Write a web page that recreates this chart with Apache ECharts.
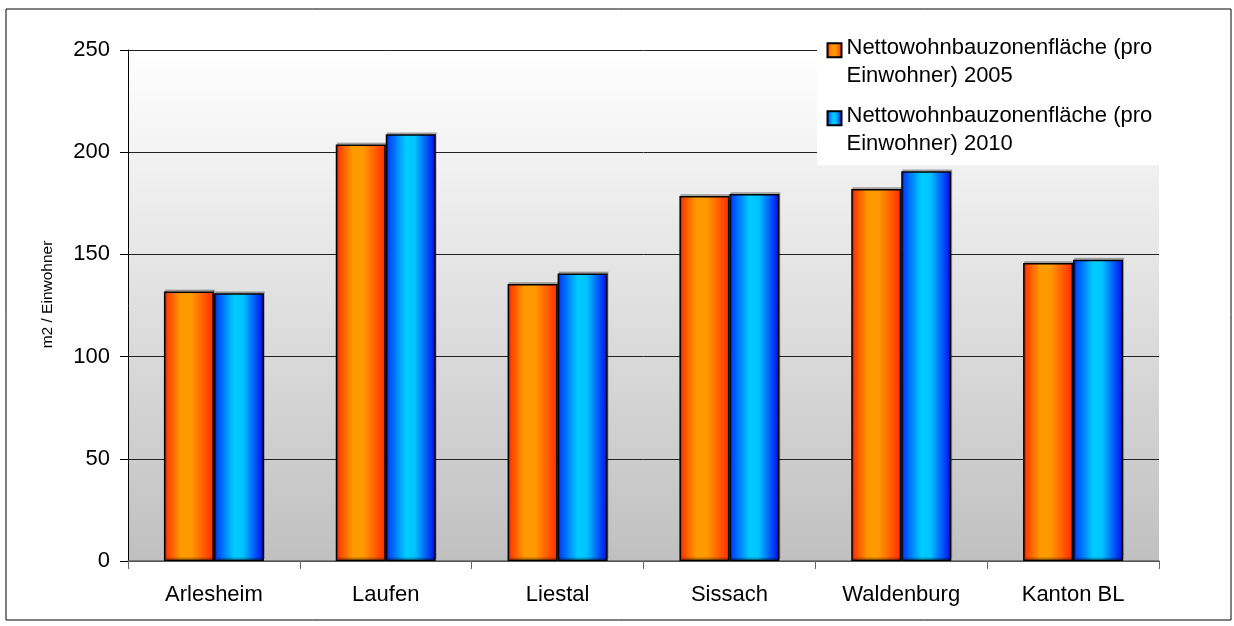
<!DOCTYPE html>
<html>
<head>
<meta charset="utf-8">
<title>Nettowohnbauzonenfläche pro Einwohner</title>
<script src="https://cdn.jsdelivr.net/npm/echarts@6/dist/echarts.min.js"></script>
<style>
  html, body { margin: 0; padding: 0; background: #fff; }
  #chart { width: 1234px; height: 626px; }
</style>
</head>
<body>
<div id="chart"></div>
<script>
// Bezirke plus the canton total
const categories = ['Arlesheim', 'Laufen', 'Liestal', 'Sissach', 'Waldenburg', 'Kanton BL'];

// Net residential zone area per inhabitant (m2)
const values2005 = [131.8, 203.8, 135.5, 178.6, 182.0, 145.8];
const values2010 = [131.0, 208.8, 140.6, 179.6, 190.7, 147.4];

const seriesNames = [
  'Nettowohnbauzonenfläche (pro Einwohner) 2005',
  'Nettowohnbauzonenfläche (pro Einwohner) 2010'
];

// y axis ticks
const yTicks = [0, 50, 100, 150, 200, 250];

const FONT = '"Liberation Sans", Arial, Helvetica, sans-serif';

function hGradient(stops) {
  return new echarts.graphic.LinearGradient(0, 0, 1, 0,
    stops.map(s => ({ offset: s[0], color: s[1] })));
}

const orangeFill = hGradient([[0, '#ff2a00'], [0.33, '#ff9900'], [0.55, '#ff9900'], [1, '#ff2a00']]);
const blueFill = hGradient([[0, '#0030ff'], [0.4, '#00ccff'], [0.58, '#00c4ff'], [1, '#0008f0']]);

// Legend marker: a 14px square sitting beside the first text line of a two-line label
const legendIcon = 'path://M0,0M14,56M0,9L14,9L14,23L0,23Z';

const chart = echarts.init(document.getElementById('chart'), null, { renderer: 'canvas' });

chart.setOption({
  animation: false,
  textStyle: { fontFamily: FONT },
  grid: {
    left: 128,
    right: 75,
    top: 50,
    bottom: 65,
    show: true,
    borderWidth: 0,
    backgroundColor: new echarts.graphic.LinearGradient(0, 0, 0, 1, [
      { offset: 0, color: '#ffffff' },
      { offset: 1, color: '#c0c0c0' }
    ])
  },
  legend: {
    left: 817,
    top: 27,
    orient: 'vertical',
    backgroundColor: '#ffffff',
    padding: [6.3, 9, 6, 9.5],
    itemWidth: 14,
    itemHeight: 56,
    itemGap: 10,
    icon: legendIcon,
    data: seriesNames,
    formatter: name => name.replace(' Einwohner', '\nEinwohner'),
    textStyle: { fontSize: 22, lineHeight: 28, color: '#000', fontFamily: FONT }
  },
  xAxis: {
    type: 'category',
    data: categories,
    boundaryGap: true,
    axisLine: { lineStyle: { color: '#666', width: 1.5 } },
    axisTick: { show: true, length: 8, lineStyle: { color: '#666' } },
    axisLabel: { fontSize: 22, color: '#000', margin: 23, fontFamily: FONT }
  },
  yAxis: {
    type: 'value',
    min: yTicks[0],
    max: yTicks[yTicks.length - 1],
    interval: yTicks[1] - yTicks[0],
    name: 'm2 / Einwohner',
    nameLocation: 'middle',
    nameGap: 72,
    nameRotate: 90,
    nameTextStyle: { fontSize: 15.5, color: '#000', fontFamily: FONT, padding: [0, 0, 0, 22] },
    axisLine: { show: true, lineStyle: { color: '#000', width: 1 } },
    axisTick: { show: true, length: 8, lineStyle: { color: '#000' } },
    axisLabel: { fontSize: 22, color: '#000', margin: 18, fontFamily: FONT },
    splitLine: { show: true, lineStyle: { color: '#222', width: 1 } }
  },
  series: [
    {
      name: seriesNames[0],
      type: 'bar',
      data: values2005,
      barWidth: 50,
      barGap: '0%',
      itemStyle: {
        color: orangeFill,
        borderColor: '#000',
        borderWidth: 1.5,
        shadowColor: 'rgba(0,0,0,0.22)',
        shadowOffsetX: 1,
        shadowOffsetY: -2
      }
    },
    {
      name: seriesNames[1],
      type: 'bar',
      data: values2010,
      barWidth: 50,
      barGap: '0%',
      itemStyle: {
        color: blueFill,
        borderColor: '#000',
        borderWidth: 1.5,
        shadowColor: 'rgba(0,0,0,0.22)',
        shadowOffsetX: 1,
        shadowOffsetY: -2
      }
    }
  ],
  graphic: [
    {
      type: 'rect',
      silent: true,
      z: 100,
      shape: { x: 6, y: 9, width: 1225, height: 611 },
      style: { fill: 'none', stroke: '#000', lineWidth: 1 }
    }
  ]
});
</script>
</body>
</html>
